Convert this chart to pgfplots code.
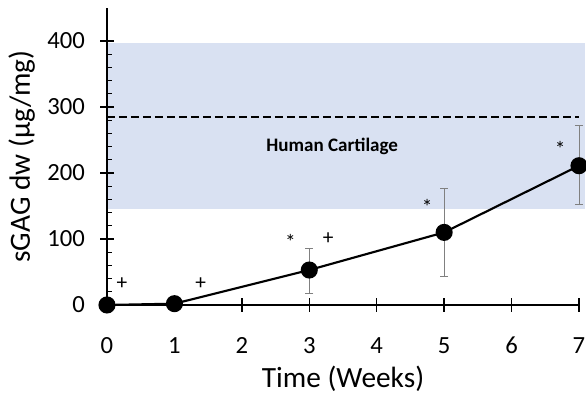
\documentclass[border=0pt]{standalone}
\usepackage{pgfplots}
\pgfplotsset{compat=1.18}
\usepackage{fontspec}
\setmainfont{Carlito}
\definecolor{band}{RGB}{217,225,242}
\begin{document}
\begin{tikzpicture}
\begin{axis}[
  at={(0,0)}, anchor=origin,
  scale only axis, width=354pt, height=222.75pt,
  xmin=0, xmax=7, ymin=0, ymax=450,
  axis lines*=left,
  axis line style={line width=1.2pt},
  xtick={0,1,...,7}, ytick={0,100,...,400}, minor y tick num=4,
  xticklabels={0,1,2,3,4,5,6,7},
  yticklabels={0,100,200,300,400},
  tick align=center, major tick length=10pt, minor tick length=4pt,
  every tick/.style={black, line width=1pt},
  minor y tick style={xshift=2pt},
  clip=false, axis on top,
  xticklabel style={anchor=base, yshift=-31.5pt, font=\fontsize{18.5}{22}\selectfont},
  yticklabel style={xshift=-8pt, font=\fontsize{18.5}{22}\selectfont},
  xlabel={Time (Weeks)},
  ylabel={sGAG dw (µg/mg)},
  every axis x label/.style={at={(axis description cs:0.5,0)}, yshift=-55pt, anchor=center, font=\fontsize{22}{26}\selectfont},
  every axis y label/.style={at={(axis description cs:0,0.5)}, xshift=-64pt, rotate=90, anchor=center, font=\fontsize{22}{26}\selectfont},
]
\fill[band] (axis cs:0,145) rectangle (axis cs:7.09,397);
\addplot[black, line width=2pt, dash pattern=on 6pt off 3pt] coordinates {(0,285) (7,285)};
\addplot[black, line width=1.6pt, mark=*, mark size=5.6pt, mark options={solid, fill=black},
  error bars/.cd, y dir=both, y explicit,
  error bar style={line width=0.6pt, gray},
  error mark options={rotate=90, gray, mark size=3pt, line width=0.6pt}]
  coordinates {
   (0,0) +- (0,0)
   (1,2) +- (0,0)
   (3,53) += (0,33) -= (0,36)
   (5,110) += (0,67) -= (0,66)
   (7,211) += (0,61) -= (0,58)
  };
\node[font=\bfseries\fontsize{14.3}{17}\selectfont] at (axis cs:3.34,240) {Human Cartilage};
\node[font=\fontsize{16}{18}\selectfont] at (axis cs:0.22,33) {+};
\node[font=\fontsize{16}{18}\selectfont] at (axis cs:1.39,33) {+};
\node[font=\fontsize{16}{18}\selectfont] at (axis cs:3.28,101) {+};
\node[font=\fontsize{16}{18}\selectfont] at (axis cs:2.72,96) {*};
\node[font=\fontsize{16}{18}\selectfont] at (axis cs:4.75,148) {*};
\node[font=\fontsize{16}{18}\selectfont] at (axis cs:6.72,237) {*};
\end{axis}
\pgfresetboundingbox
\useasboundingbox (-80.25pt,-67.5pt) rectangle (359.25pt,228.75pt);
\end{tikzpicture}
\end{document}
